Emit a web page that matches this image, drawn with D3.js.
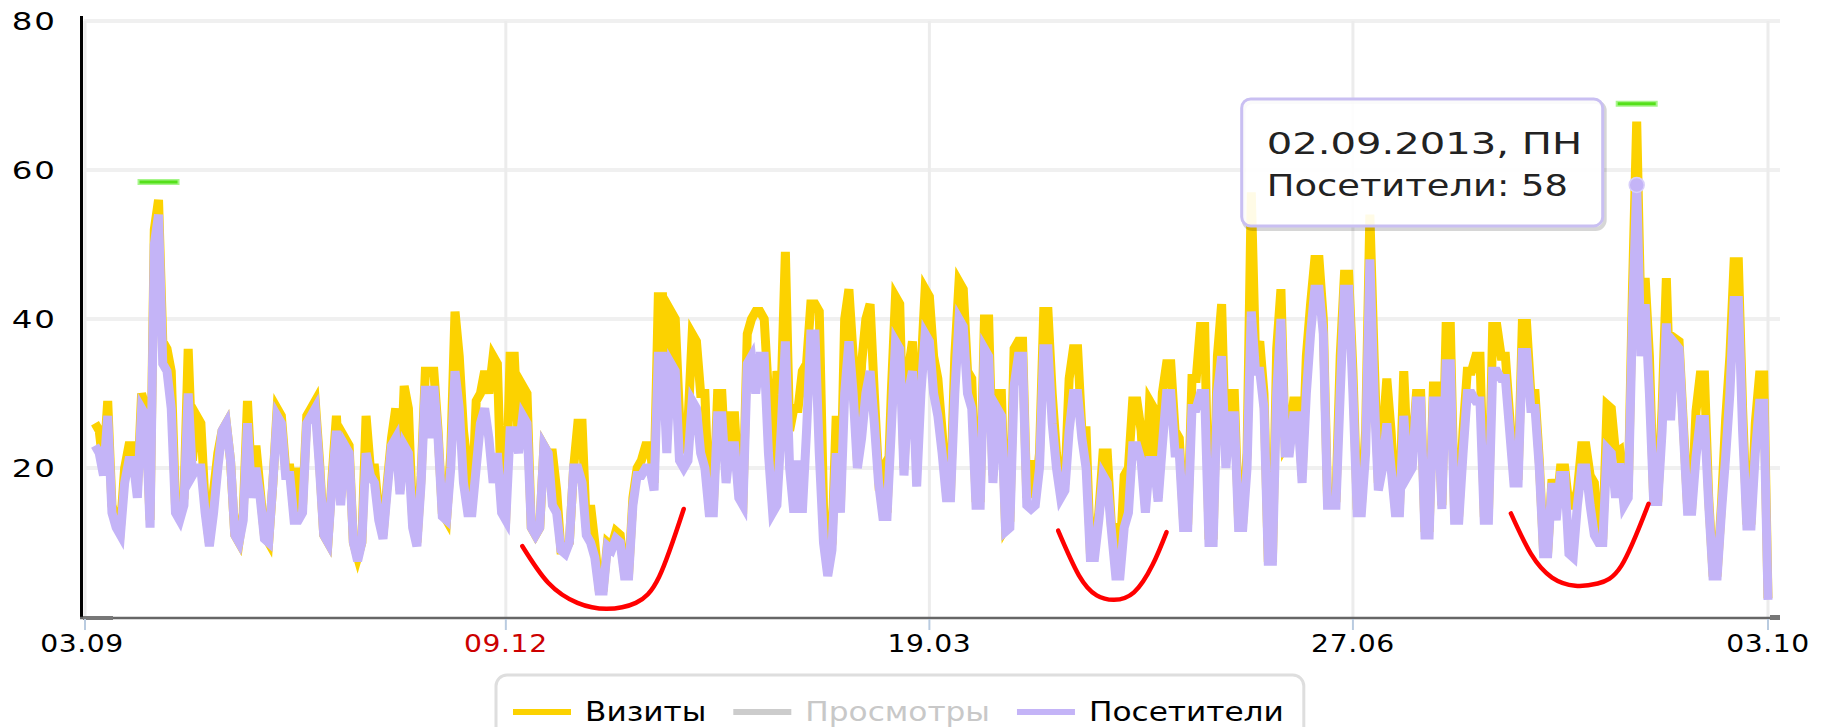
<!DOCTYPE html>
<html><head><meta charset="utf-8">
<script src="https://cdn.jsdelivr.net/npm/d3@7"></script>
<style>html,body{margin:0;padding:0;background:#fff;overflow:hidden}</style>
</head><body><svg id="c" width="1829" height="727"></svg>
<script>
// ---------- DATA ----------
const startDate = "2012-09-03";
const endDate = "2013-10-03";
const visitors = [
23,22,19,27,14,12,11,18,21,21,
16,28,27,12,50,54,34,33,28,14,
13,15,30,19,20,20,14,9.5,14,20,
25,26,21,11,10,13,26,16,20,16,
10.5,10,18,27,26,19,19,13,13,14,
26,27,28,20,11,10,18,25,15,23,
22,10,7.5,10,22,19,18,13,10.5,17,
23,24,16.5,23,22,12,9.5,18,31,24,
31,24,13.5,13,20,33,28,18,14,14,
20,26,28,24,18,22,14,13,25,25,
22,27,26,12,11,12,23,22,15,14,
9,8.5,10,20,20,18,11,10,8,3.5,
3.5,9.5,9,10.5,10,5.5,5.5,15,19,19,
20,20,17,35,35,22,34,33,21,20,
21,29,28,22,20,14,14,27,27,18,
23,23,16,15,34,35,30,35,35,22,
14,15,25,37,20,14,21,14,25,38,
38,22,10,5.5,9,22,14,30,37,30,
20,24,30,33,26,18,13.5,13.5,25,37,
36,19,30,33,17.5,30,38,37,30,27,
22,16,16,30,40,39,30,28,15,15,
36,35,18,28,27,11.5,12,31,35,35,
15,14.5,15,20,36,36,26,20,16,17,
25,30,30,24,20,8,8,13,19,18,
11.5,5.5,5.5,12,14,23,23,21,14,21,
21,15.5,23,30,30,22,22,12,12,28,
28,30,30,10,10,30,35,20,27,27,
12,12,20,41,33,33,28,7.5,7.5,30,
40,22,22,27,27,18,30,38,44,44,
38,15,15,15,30,44,44,30,14,14,
22,48,30,17,20,26,20,14,14,27,
19,20,29,29,11,11,29,29,14.5,34,
34,13,13,22,30,30,29,29,13,13,
33,33,32,32,25,18,18,35.5,35.5,28,
28,20,8.5,8.5,18,13,19,19,8.5,8,
15,20,20,15,11,10,10,22.6,22,16,
20.6,15,16,40,58,35,42,30,15.5,15.5,
25,39.4,26.4,36.7,36,25,14.2,14.2,21.5,26.5,
26.5,15,5.5,5.5,14,21.5,30,42.5,42.5,25,
12.2,12.2,22,28.7,28.7,2.3
];
const visits = [
26,25,20,29,15,13,12,20,23,23,
17,30,28,13,52,56,37,36,33,15,
14,16,36,21,27,26,15,10,17,22,
25,26,21,11,10,14,29,18,23,17,
11,10,18,28,27,20,20,14,20,15,
27,28,29,21,11,10,19,27,16,24,
23,10,8,10,27,20,20,14,11,18,
24,28,17,31,28,13,10,19,33,33,
33,25,14,13,22,41,35,25,20,15,
29,30,33,30,35,34,15,14,35,35,
23,31,30,12,11,12,23,22,22,17,
9,9,10,20,26,26,12,15,10,4,
4,10,9.5,11.5,11,6,6,16,20,21,
23,23,18,43,43,26,41,40,27,22,
26,38,37,30,30,15,15,30,30,19,
27,27,17,16,38,40,41,41,40,30,
15,33,30,49,25,28,28,33,34,42,
42,41,15,6,10,27,15,40,44,35,
21,34,40,42,30,19,20,14,30,43,
42,20,33,37,20,33,44,43,35,32,
25,17,17,35,45,44,33,32,16,16,
40,40,19,30,30,12,13,36,37,37,
16,21,16,22,41,41,30,22,17,18,
32,36,36,25,25,9,9,14,22,22,
12,12,8,19,20,29,29,25,15,29,
28,16,30,34,34,25,24,13,13,32,
32,39,39,11,11,35,42,21,30,30,
13,13,22,57,35,37,30,8,8,36,
44,23,24,29,29,19,35,42,48,48,
40,16,16,16,35,46,46,33,15,15,
25,54,35,18,24,32,25,15,15,33,
20,22,30,30,12,12,31,31,15,39,
39,14,14,25,33,33,35,35,14,14,
39,39,35,35,27,19,19,39.4,39.4,30,
30,21,9,9,18.5,14,20,20,15,15,
17,23,23,19,18,11,11,28.5,28,22,
22.4,16,17,44,66.5,40,45.5,35,16,16,
28,45.5,28,37.4,37,26,15,15,27.6,32.5,
32.5,16,6,6,15,26.5,35,47.7,47.7,28,
13,13,26,32.5,32.5,2.5
];
const xTickDates = ["2012-09-03","2012-12-09","2013-03-19","2013-06-27","2013-10-03"];
const xTickLabels = ["03.09","09.12","19.03","27.06","03.10"];
const xTickRed = [false,true,false,false,false];
const yTicks = [20,40,60,80];
const seriesNames = ["Визиты","Просмотры","Посетители"];
const seriesColors = ["#fcd200","#cccccc","#c4b4f7"];
const seriesEnabled = [true,false,true];
// maximum markers: [day index, value]
const peakMarks = [[15,58.4],[364,68.9]];
// hand-drawn holiday arcs: points [day index, value]
const arc1 = [[100.9,9.5],[107,4.6],[113.9,1.9],[120.8,1.1],[127.7,1.9],[133.2,5.4],[139,14.5]];
const arc2 = [[227.4,11.6],[232.3,5.6],[236.5,2.9],[240.6,2.3],[245.3,3.3],[249.7,7],[253,11.4]];
const arc3 = [[334.3,13.9],[339,8.5],[344,5.3],[349.5,4.2],[354.8,4.5],[360.4,6.9],[366.8,15.2]];
const tooltipIndex = 364;
const weekdays = ["ВС","ПН","ВТ","СР","ЧТ","ПТ","СБ"];

// ---------- CHART ----------
const svg = d3.select("#c");
const parse = d3.timeParse("%Y-%m-%d");
const t0 = parse(startDate), t1 = parse(endDate);
const dayDate = i => new Date(t0.getTime() + i * 864e5);
const L = 83, R = 1780, T = 21, B = 617;
const x = d3.scaleTime().domain([t0, t1]).range([95, 1768]);
const y = d3.scaleLinear().domain([0, 80]).range([B, T]);
const font = "'DejaVu Sans', Verdana, sans-serif";

// horizontal grid
svg.append("g").selectAll("line").data(yTicks).join("line")
  .attr("x1", L + 1).attr("x2", R).attr("y1", d => y(d)).attr("y2", d => y(d))
  .attr("stroke", "#f0f0f0").attr("stroke-width", 4);
// vertical grid
const tickX = xTickDates.map((d, i) => i === 0 ? L + 2 : x(parse(d)));
svg.append("g").selectAll("line").data(tickX).join("line")
  .attr("x1", d => d).attr("x2", d => d).attr("y1", T).attr("y2", B)
  .attr("stroke", "#ececec").attr("stroke-width", 3);

// y labels
svg.append("g").selectAll("g").data(yTicks).join("g")
  .attr("transform", d => `translate(57,${y(d)}) scale(1.3,1)`)
  .append("text").attr("text-anchor", "end").attr("dy", "0.36em")
  .attr("font-family", font).attr("font-size", 25).attr("letter-spacing", 1.5)
  .attr("fill", "#000").text(d => d);

// lines
const line = arr => d3.line().x((d, i) => x(dayDate(i))).y(d => y(d))(arr);
svg.append("path").attr("d", line(visits)).attr("fill", "none")
  .attr("stroke", seriesColors[0]).attr("stroke-width", 9);
svg.append("path").attr("d", line(visitors)).attr("fill", "none")
  .attr("stroke", seriesColors[2]).attr("stroke-width", 9);

// axes lines
svg.append("line").attr("x1", 81.5).attr("x2", 81.5).attr("y1", 16).attr("y2", B + 1)
  .attr("stroke", "#000").attr("stroke-width", 3);
svg.append("line").attr("x1", 80).attr("x2", R).attr("y1", B + 1).attr("y2", B + 1)
  .attr("stroke", "#666").attr("stroke-width", 2.5);
svg.append("rect").attr("x", 83).attr("y", B - 1).attr("width", 30).attr("height", 4).attr("fill", "#777");
svg.append("rect").attr("x", R - 10).attr("y", B - 2).attr("width", 10).attr("height", 5).attr("fill", "#777");
// ticks + labels
const xt = svg.append("g").selectAll("g").data(xTickLabels).join("g");
xt.append("line").attr("x1", (d, i) => tickX[i]).attr("x2", (d, i) => tickX[i])
  .attr("y1", B + 2).attr("y2", B + 13).attr("stroke", "#b9cbe0").attr("stroke-width", 2);
xt.append("g").attr("transform", (d, i) => `translate(${tickX[i] + (i === 0 ? -3 : 0)},652) scale(1.13,1)`)
  .append("text").attr("text-anchor", "middle")
  .attr("font-family", font).attr("font-size", 25).attr("letter-spacing", 0.5)
  .attr("fill", (d, i) => xTickRed[i] ? "#cc0000" : "#000").text(d => d);

// peak markers
peakMarks.forEach(([i, v]) => {
  const cx = x(dayDate(i)), cy = y(v);
  svg.append("line").attr("x1", cx - 21).attr("x2", cx + 21).attr("y1", cy).attr("y2", cy)
    .attr("stroke", "#a6f58a").attr("stroke-width", 6);
  svg.append("line").attr("x1", cx - 19).attr("x2", cx + 19).attr("y1", cy).attr("y2", cy)
    .attr("stroke", "#55e01a").attr("stroke-width", 3);
});

// holiday arcs
const arcLine = d3.line().curve(d3.curveNatural).x(d => x(dayDate(d[0]))).y(d => y(d[1]));
[arc1, arc2, arc3].forEach(a => svg.append("path").attr("d", arcLine(a)).attr("fill", "none")
  .attr("stroke", "#ff0000").attr("stroke-width", 4.5).attr("stroke-linecap", "round"));

// tooltip marker
const px = x(dayDate(tooltipIndex)), py = y(visitors[tooltipIndex]);
svg.append("circle").attr("cx", px).attr("cy", py).attr("r", 7.5)
  .attr("fill", seriesColors[2]).attr("stroke", "#d8cffa").attr("stroke-width", 1.5);

// tooltip box
const tb = { x: px - 395, y: py - 86, w: 361, h: 127 };
svg.append("rect").attr("x", tb.x + 2).attr("y", tb.y + 3).attr("width", tb.w).attr("height", tb.h)
  .attr("rx", 9).attr("fill", "none").attr("stroke", "#000").attr("stroke-opacity", 0.16).attr("stroke-width", 4);
svg.append("rect").attr("x", tb.x).attr("y", tb.y).attr("width", tb.w).attr("height", tb.h)
  .attr("rx", 9).attr("fill", "#fff").attr("fill-opacity", 0.9)
  .attr("stroke", "#c9bff2").attr("stroke-width", 3);
const td = dayDate(tooltipIndex);
const ttLines = [d3.timeFormat("%d.%m.%Y")(td) + ", " + weekdays[td.getDay()],
  seriesNames[2] + ": " + visitors[tooltipIndex]];
const ttScale = [1.36, 1.25];
ttLines.forEach((s, k) => {
  svg.append("g").attr("transform", `translate(${tb.x + 25},${tb.y + 55 + k * 42}) scale(${ttScale[k]},1)`)
    .append("text").attr("font-family", font).attr("font-size", 29.5)
    .attr("fill", "#222").text(s);
});

// legend
const lg = svg.append("g");
const lgBox = lg.append("rect").attr("y", 675).attr("height", 90).attr("rx", 11)
  .attr("fill", "#fff").attr("stroke", "#dedede").attr("stroke-width", 3);
let cx = 513;
const lsx = 1.2;
seriesNames.forEach((n, i) => {
  lg.append("line").attr("x1", cx).attr("x2", cx + 58).attr("y1", 712).attr("y2", 712)
    .attr("stroke", seriesColors[i]).attr("stroke-width", 6);
  cx += 72;
  const g = lg.append("g").attr("transform", `translate(${cx},721) scale(${lsx},1)`);
  const t = g.append("text").attr("font-family", font).attr("font-size", 26)
    .attr("fill", seriesEnabled[i] ? "#000" : "#c8c8c8").text(n);
  cx += t.node().getComputedTextLength() * lsx + 27;
});
lgBox.attr("x", 496).attr("width", cx - 496 - 7);
</script></body></html>
